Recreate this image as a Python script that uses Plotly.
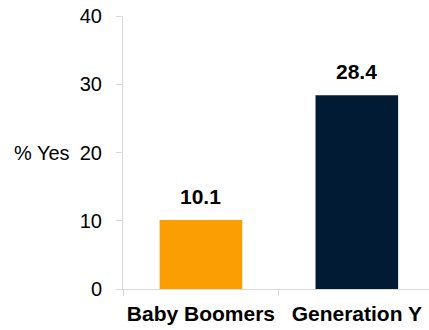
import plotly.graph_objects as go

# Survey result: share answering "Yes" by generation
generations = ["Baby Boomers", "Generation Y"]
pct_yes = [10.1, 28.4]
bar_colors = ["#FB9E03", "#021B35"]
y_ticks = [0, 10, 20, 30, 40]

FONT = "Arial, Liberation Sans, sans-serif"
AXIS_GREY = "#D9D9D9"

fig = go.Figure(
    go.Bar(
        x=generations,
        y=pct_yes,
        marker=dict(color=bar_colors, line=dict(width=0)),
        width=0.53,
        hoverinfo="skip",
    )
)

# value labels above each bar
for g, v in zip(generations, pct_yes):
    fig.add_annotation(
        x=g, y=v, text=f"<b>{v:.1f}</b>", showarrow=False,
        yanchor="bottom", yshift=10,
        font=dict(family=FONT, size=21, color="#000000"),
    )

plot_left, width = 123, 429
fig.add_annotation(
    xref="paper", x=(72 - plot_left) / (width - plot_left), xanchor="right",
    y=20, yanchor="middle", text="% Yes", showarrow=False,
    font=dict(family=FONT, size=20, color="#000000"),
)

fig.update_layout(
    width=width, height=330,
    margin=dict(l=plot_left, r=0, t=16, b=41),
    paper_bgcolor="white", plot_bgcolor="white",
    showlegend=False,
    font=dict(family=FONT, color="#000000"),
)
fig.update_xaxes(
    type="category",
    range=[-0.5, 1.463],
    showline=True, linecolor=AXIS_GREY, linewidth=1,
    ticks="outside", tickson="boundaries", ticklen=6, tickcolor=AXIS_GREY,
    tickfont=dict(family=FONT, size=21, color="#000000", weight="bold"),
    tickangle=0, automargin=False,
    ticklabelstandoff=6,
    showgrid=False, zeroline=False, fixedrange=True,
)
fig.update_yaxes(
    range=[0, 40], tickvals=y_ticks,
    showline=True, linecolor=AXIS_GREY, linewidth=1,
    ticks="outside", ticklen=6, tickcolor=AXIS_GREY,
    tickfont=dict(family=FONT, size=20, color="#000000"),
    ticklabelstandoff=10, automargin=False,
    showgrid=False, zeroline=False, fixedrange=True,
)

fig.write_html("out.html", config={"displayModeBar": False})
